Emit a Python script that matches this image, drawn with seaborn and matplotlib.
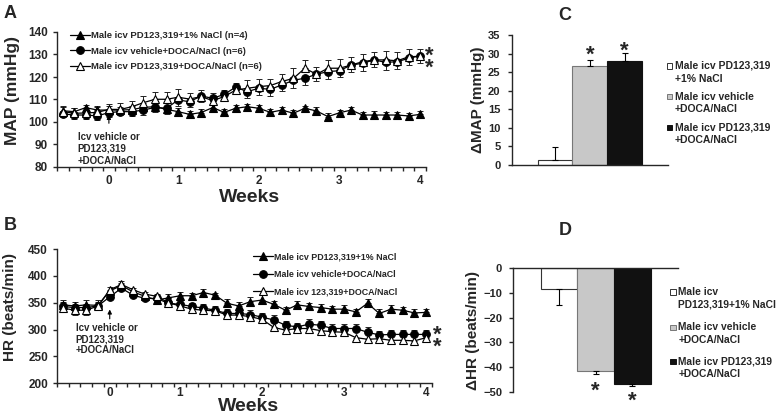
import matplotlib
matplotlib.use("Agg")
import matplotlib.pyplot as plt
from matplotlib.patches import Rectangle
import seaborn as sns
import pandas as pd

# ── Data ──────────────────────────────────────────────────────────────────────
# 32 sampling points along a category axis; week labels sit on these categories
time_idx = list(range(32))
week_ticks = [4, 10, 17, 24, 31]
week_labels = ["0", "1", "2", "3", "4"]

# Panel A: MAP (mmHg)
map_pd_nacl = [105.0, 104.6, 106.4, 105.3, 105.3, 105.3, 105.5, 106.5, 106.8, 105.6,
               104.6, 103.4, 104.2, 106.4, 104.3, 106.1, 106.8, 106.1, 104.3, 105.3,
               103.9, 106.1, 104.9, 102.4, 104.1, 105.3, 103.1, 103.1, 103.1, 103.1,
               102.7, 103.4]
map_pd_nacl_sem = [1.8, 1.5, 1.2, 1.5, 1.6, 1.4, 1.5, 1.2, 1.6, 1.5,
                   1.4, 1.3, 1.6, 1.2, 1.5, 1.4, 1.3, 1.6, 1.4, 1.5,
                   1.3, 1.2, 1.6, 1.5, 1.4, 1.3, 1.5, 1.6, 1.5, 1.4,
                   1.3, 1.6]
map_veh_doca = [103.6, 103.1, 103.1, 102.7, 104.2, 104.6, 104.6, 105.3, 106.5, 106.1,
                109.8, 109.0, 111.6, 110.5, 112.3, 115.5, 113.5, 115.0, 114.5, 116.5,
                118.5, 119.5, 121.2, 122.4, 122.8, 125.3, 126.1, 127.6, 126.5, 126.8,
                128.3, 129.5]
map_veh_doca_sem = [1.5, 1.8, 1.6, 1.7, 1.9, 1.6, 1.8, 2.0, 2.2, 2.4,
                    2.6, 2.5, 2.8, 2.6, 2.9, 3.0, 2.8, 2.9, 3.1, 2.9,
                    3.2, 3.0, 3.1, 3.3, 3.0, 3.2, 3.4, 3.1, 3.3, 3.2,
                    3.0, 3.1]
map_pd_doca = [104.6, 103.9, 104.0, 104.3, 105.6, 105.6, 106.8, 108.6, 110.1, 110.1,
               111.0, 110.2, 111.3, 109.5, 111.3, 114.2, 115.0, 115.7, 116.2, 118.0,
               119.4, 123.9, 121.2, 123.9, 123.9, 125.3, 126.8, 127.6, 127.6, 127.2,
               129.0, 129.2]
map_pd_doca_sem = [2.5, 2.2, 2.4, 2.6, 2.3, 2.8, 2.5, 3.0, 3.2, 3.1,
                   3.6, 2.8, 2.9, 3.4, 3.0, 3.3, 3.5, 3.2, 3.1, 3.4,
                   4.4, 3.6, 3.3, 3.7, 3.9, 3.4, 3.6, 3.5, 3.8, 3.7,
                   3.5, 3.2]

# Panel B: HR (beats/min)
hr_pd_nacl = [346, 344, 346, 345, 372, 382, 370, 362, 355, 359,
              363, 363, 369, 364, 349, 344, 352, 355, 347, 336,
              346, 343, 341, 338, 338, 333, 349, 330, 338, 336,
              331, 332]
hr_pd_nacl_sem = [9, 8, 9, 10, 8, 9, 7, 8, 9, 8,
                  7, 6, 6, 5, 7, 8, 8, 9, 7, 6,
                  8, 7, 6, 6, 7, 6, 7, 8, 7, 6,
                  7, 6]
hr_veh_doca = [343, 341, 341, 344, 361, 377, 364, 358, 358, 349,
               347, 343, 340, 336, 330, 330, 328, 323, 318, 308,
               305, 310, 308, 302, 302, 302, 295, 290, 291, 291,
               291, 291]
hr_veh_doca_sem = [8, 7, 7, 8, 9, 10, 8, 8, 8, 9,
                   8, 7, 8, 7, 8, 9, 8, 8, 9, 8,
                   8, 9, 8, 9, 8, 8, 9, 8, 8, 9,
                   8, 8]
hr_pd_doca = [340, 336, 336, 344, 374, 384, 374, 366, 362, 350,
              344, 338, 336, 335, 327, 327, 324, 319, 304, 299,
              302, 302, 298, 296, 295, 285, 282, 283, 280, 280,
              279, 285]
hr_pd_doca_sem = [7, 8, 8, 7, 9, 9, 8, 9, 8, 7,
                  8, 7, 7, 8, 7, 7, 8, 7, 6, 7,
                  6, 7, 6, 6, 7, 6, 7, 6, 6, 7,
                  6, 6]

# Panels C/D: change from baseline
groups = ["Male icv PD123,319\n+1% NaCl",
          "Male icv vehicle\n+DOCA/NaCl",
          "Male icv PD123,319\n+DOCA/NaCl"]
groups_d = ["Male icv\nPD123,319+1% NaCl",
            "Male icv vehicle\n+DOCA/NaCl",
            "Male icv PD123,319\n+DOCA/NaCl"]
d_map = [1.4, 26.6, 28.0]
d_map_sem = [3.4, 1.8, 2.2]
d_hr = [-8.4, -41.6, -46.9]
d_hr_sem = [6.5, 1.1, 0.8]

BAR_COLORS = ["#ffffff", "#c8c8c8", "#111111"]
BAR_EDGES = ["#333333", "#777777", "#111111"]

# ── Style ─────────────────────────────────────────────────────────────────────
sns.set_style("ticks")
plt.rcParams["font.family"] = ["Liberation Sans", "DejaVu Sans"]
plt.rcParams["font.weight"] = "bold"
plt.rcParams["axes.labelweight"] = "bold"
plt.rcParams["xtick.major.size"] = 3
plt.rcParams["ytick.major.size"] = 3
plt.rcParams["xtick.minor.size"] = 3
plt.rcParams["axes.linewidth"] = 1.0

W, H = 778, 420
fig = plt.figure(figsize=(W / 100, H / 100), dpi=100)


def px_axes(left, top, right, bottom):
    return fig.add_axes([left / W, 1 - bottom / H, (right - left) / W, (bottom - top) / H])


def time_panel(ax, series, ylim, yticks, xpad):
    for vals, sem, marker, face, side, lab in series:
        lo = sem if side == "down" else [0] * len(sem)
        hi = sem if side == "up" else [0] * len(sem)
        ax.errorbar(time_idx, vals, yerr=[lo, hi], fmt="none", ecolor="#222222",
                    elinewidth=0.7, capsize=2, capthick=0.7, zorder=2)
        sns.lineplot(x=time_idx, y=vals, ax=ax, color="black", lw=0.9,
                     marker=marker, markersize=5.5, markerfacecolor=face,
                     markeredgecolor="black", markeredgewidth=0.8, label=lab, zorder=3)
    ax.set_xlim(-0.5, 31.5)
    ax.set_ylim(*ylim)
    ax.set_yticks(yticks)
    ax.set_xticks(week_ticks)
    ax.set_xticklabels(week_labels)
    ax.set_xticks([i - 0.5 for i in time_idx] + [31.5], minor=True)
    ax.tick_params(axis="x", which="major", length=0, labelsize=8.5, pad=xpad)
    ax.tick_params(axis="x", which="minor", length=3, width=1)
    ax.tick_params(axis="y", labelsize=8.5, width=1)
    sns.despine(ax=ax)


# ── Panel A ───────────────────────────────────────────────────────────────────
axA = px_axes(57, 32, 426, 167)
time_panel(axA, [
    (map_pd_nacl, map_pd_nacl_sem, "^", "black", "up", "Male icv PD123,319+1% NaCl (n=4)"),
    (map_veh_doca, map_veh_doca_sem, "o", "black", "down", "Male icv vehicle+DOCA/NaCl (n=6)"),
    (map_pd_doca, map_pd_doca_sem, "^", "white", "up", "Male icv PD123,319+DOCA/NaCl (n=6)"),
], (80, 140), range(80, 141, 10), 6)
axA.legend(loc="upper left", bbox_to_anchor=(0.035, 1.005), frameon=False,
           fontsize=6.8, handlelength=2.1, handletextpad=0.1, labelspacing=0.68,
           borderpad=0, borderaxespad=0)
axA.set_xlabel("Weeks", fontsize=14)
axA.xaxis.set_label_coords(0.523, -0.16)
axA.set_ylabel("MAP (mmHg)", fontsize=12.5)
axA.yaxis.set_label_coords(-0.10, 0.57)
axA.annotate("", xy=(4, 104.4), xytext=(4, 98.2),
             arrowprops=dict(arrowstyle="-|>", color="black", lw=0.8, mutation_scale=6))
axA.text(1.3, 88, "Icv vehicle or\nPD123,319\n+DOCA/NaCl", fontsize=7,
         ha="left", va="center", linespacing=1.3)
axA.text(31.8, 126.6, "*\n*", fontsize=16, ha="center", va="center",
         linespacing=0.45, clip_on=False)

# ── Panel B ───────────────────────────────────────────────────────────────────
axB = px_axes(57, 249, 432, 383.3)
time_panel(axB, [
    (hr_pd_nacl, hr_pd_nacl_sem, "^", "black", "up", "Male icv PD123,319+1% NaCl"),
    (hr_veh_doca, hr_veh_doca_sem, "o", "black", "up", "Male icv vehicle+DOCA/NaCl"),
    (hr_pd_doca, hr_pd_doca_sem, "^", "white", "down", "Male icv 123,319+DOCA/NaCl"),
], (200, 450), range(200, 451, 50), 2.5)
axB.legend(loc="upper left", bbox_to_anchor=(0.523, 0.975), frameon=False,
           fontsize=6.4, handlelength=2.2, handletextpad=0.1, labelspacing=0.95,
           borderpad=0, borderaxespad=0)
axB.set_xlabel("Weeks", fontsize=14)
axB.xaxis.set_label_coords(0.51, -0.11)
axB.set_ylabel("HR (beats/min)", fontsize=11)
axB.yaxis.set_label_coords(-0.106, 0.57)
axB.annotate("", xy=(4, 342.6), xytext=(4, 314.8),
             arrowprops=dict(arrowstyle="-|>", color="black", lw=0.8, mutation_scale=6))
axB.text(1.1, 282.4, "Icv vehicle or\nPD123,319\n+DOCA/NaCl", fontsize=7,
         ha="left", va="center", linespacing=1.1)
axB.text(31.95, 278.3, "*\n*", fontsize=16, ha="center", va="center",
         linespacing=0.47, clip_on=False)


# ── Bar panels ────────────────────────────────────────────────────────────────
def bar_panel(ax, vals, sem, side):
    df = pd.DataFrame({"group": groups, "val": vals})
    sns.barplot(data=df, x="group", y="val", hue="group", palette=BAR_COLORS,
                width=1, errorbar=None, legend=False, ax=ax, linewidth=0.8)
    for patch, ec in zip(ax.patches, BAR_EDGES):
        patch.set_edgecolor(ec)
    zeros = [0] * len(sem)
    yerr = [zeros, sem] if side == "up" else [sem, zeros]
    ax.errorbar(range(len(vals)), vals, yerr=yerr, fmt="none", ecolor="black",
                elinewidth=0.8, capsize=2.5, capthick=0.8)
    ax.set_xlim(-1.25, 3.25)
    ax.set_xticks([])
    ax.set_xlabel("")
    ax.tick_params(axis="y", labelsize=8, width=1, pad=5)


def bar_legend(x_sq, y_centers, labels, fs):
    for yc, lab, col, ec in zip(y_centers, labels, BAR_COLORS, BAR_EDGES):
        fig.patches.append(Rectangle((x_sq / W, 1 - (yc + 2.7) / H), 5.5 / W, 5.5 / H,
                                     transform=fig.transFigure, facecolor=col,
                                     edgecolor=ec, lw=0.7))
        l1, l2 = lab.split("\n")
        fig.text((x_sq + 8.5) / W, 1 - yc / H, l1, fontsize=fs, ha="left", va="center")
        fig.text((x_sq + 8.5) / W, 1 - (yc + 12.5) / H, l2, fontsize=fs, ha="left", va="center")


axC = px_axes(511.7, 35, 668, 165)
bar_panel(axC, d_map, d_map_sem, "up")
axC.set_ylim(0, 35)
axC.set_yticks(range(0, 36, 5))
sns.despine(ax=axC)
axC.set_ylabel("\u0394MAP (mmHg)", fontsize=11)
axC.yaxis.set_label_coords(-0.17, 0.5)
axC.text(1, 29.65, "*", fontsize=16, ha="center", va="center")
axC.text(2, 30.6, "*", fontsize=16, ha="center", va="center")
bar_legend(666.5, [66, 96.7, 127.7], groups, 7.5)

axD = px_axes(513.3, 268.3, 678, 391.7)
bar_panel(axD, d_hr, d_hr_sem, "down")
axD.set_ylim(-50, 0)
axD.set_yticks(range(-50, 1, 10))
axD.spines["bottom"].set_visible(False)
axD.spines["right"].set_visible(False)
axD.spines["top"].set_visible(True)
axD.set_ylabel("\u0394HR (beats/min)", fontsize=11)
axD.yaxis.set_label_coords(-0.205, 0.5)
axD.text(1, -49.8, "*", fontsize=16, ha="center", va="center", clip_on=False)
axD.text(2, -53.8, "*", fontsize=16, ha="center", va="center", clip_on=False)
bar_legend(670, [292, 327.3, 361.7], groups_d, 7.4)

# ── Panel letters ─────────────────────────────────────────────────────────────
for letter, x, y in [("A", 10, 13), ("B", 10, 226), ("C", 565, 15), ("D", 565, 230)]:
    fig.text(x / W, 1 - y / H, letter, fontsize=13, ha="center", va="center")

fig.savefig("out.png", dpi=100)
